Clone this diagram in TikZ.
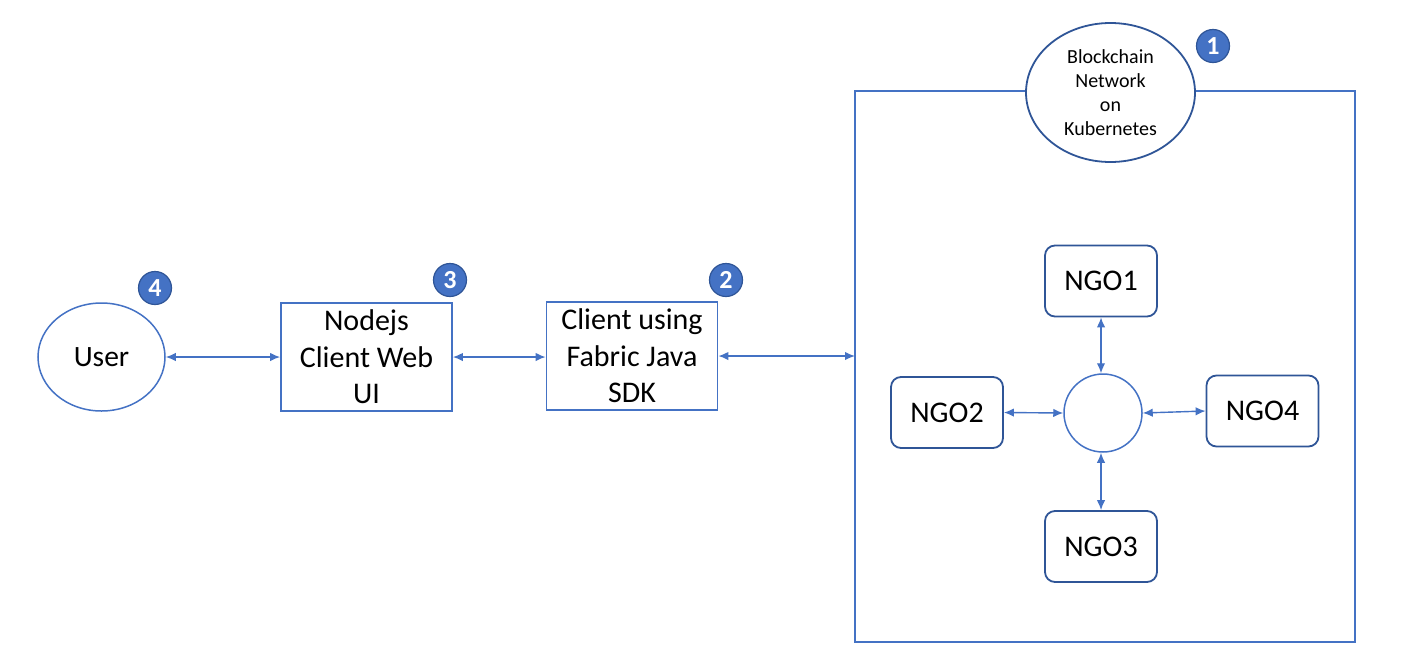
\documentclass[tikz,border=0pt]{standalone}
\usepackage{fontspec}
\setmainfont{Carlito}
\usetikzlibrary{arrows.meta,shapes.geometric}
\definecolor{linea}{HTML}{4472C4}
\definecolor{bordo}{HTML}{2F5597}
\tikzset{
	freccia/.style={linea, line width=1.4pt, {Latex[length=10pt,width=8.5pt]}-{Latex[length=10pt,width=8.5pt]}},
	scatola/.style={draw=linea, line width=1.8pt, minimum width=171pt, minimum height=108pt, align=center, inner sep=0pt, font=\fontsize{30}{36.5}\selectfont},
	ngo/.style={draw=bordo, line width=1.8pt, rounded corners=10pt, minimum width=112pt, minimum height=71pt, inner sep=0pt, font=\fontsize{30}{34}\selectfont},
	numero/.style={circle, fill=linea, draw=bordo, line width=1.2pt, minimum size=33pt, inner sep=0pt, text=white, font=\bfseries\fontsize{26}{26}\selectfont},
}
\begin{document}
\begin{tikzpicture}[x=1pt, y=-1pt]
		\useasboundingbox (0, 0) rectangle (1410, 670);

		% rete
		\draw[linea, line width=1.8pt] (855, 91) rectangle (1355, 642);
		\coordinate (rete) at (855, 356);
		\node[ellipse, draw=bordo, fill=white, line width=1.8pt, minimum width=169pt, minimum height=139pt, inner sep=0pt, align=center, font=\fontsize{20}{24}\selectfont] (bc) at (1110.5, 92.5) {Blockchain\\Network\\on\\Kubernetes};

		% nodi
		\node[ellipse, draw=linea, line width=1.5pt, minimum width=127pt, minimum height=108pt, inner sep=0pt, font=\fontsize{29.5}{34}\selectfont] (user) at (101.5, 357) {User};
		\node[scatola] (web) at (366.5, 357) {Nodejs\\Client Web\\UI};
		\node[scatola] (sdk) at (632, 356) {Client using\\Fabric Java\\SDK};

		\node[circle, draw=linea, line width=1.5pt, minimum size=78pt, inner sep=0pt] (hub) at (1103, 413) {};
		\node[ngo] (ngo1) at (1101, 281) {NGO1};
		\node[ngo] (ngo2) at (947, 412.5) {NGO2};
		\node[ngo] (ngo3) at (1101, 546.5) {NGO3};
		\node[ngo] (ngo4) at (1262.5, 411) {NGO4};

		% frecce
		\draw[freccia] (user.east) -- (web.west);
		\draw[freccia] (web.east) -- (web.east -| sdk.west);
		\draw[freccia] (sdk.east |- rete) -- (rete);
		\draw[freccia] (ngo1.south) -- (ngo1.south |- hub.north);
		\draw[freccia] (ngo3.north) -- (ngo3.north |- hub.south);
		\draw[freccia] (ngo2.east) -- (hub.west);
		\draw[freccia] (hub.east) -- (ngo4.west);

		% numeri
		\node[numero] (n1) at (1213, 46) {1};
		\node[numero] (n2) at (726, 280) {2};
		\node[numero] (n3) at (450, 280) {3};
		\node[numero] (n4) at (155, 288) {4};
	\end{tikzpicture}
\end{document}
